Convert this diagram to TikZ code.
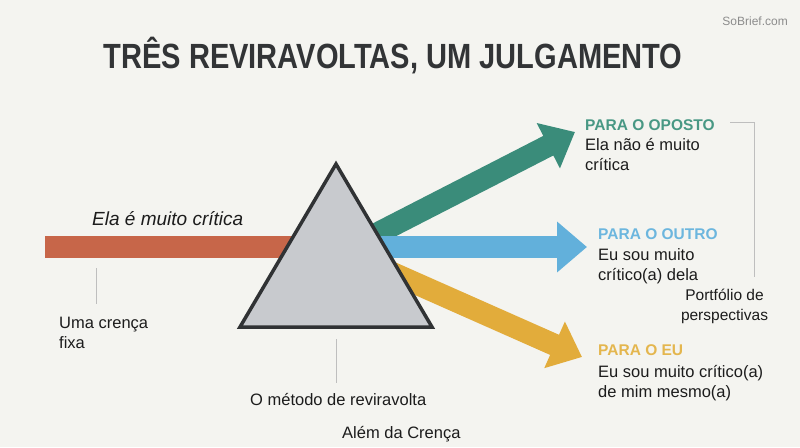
\documentclass[tikz,border=0pt]{standalone}
\usepackage{fontspec}
\setmainfont{Liberation Sans}
\usepackage{graphicx}
\usetikzlibrary{arrows.meta}
\definecolor{bg}{RGB}{244,244,240}
\definecolor{titlec}{RGB}{50,52,54}
\definecolor{txt}{RGB}{28,28,28}
\definecolor{redb}{RGB}{199,102,73}
\definecolor{tealb}{RGB}{58,140,122}
\definecolor{blueb}{RGB}{98,176,219}
\definecolor{yelb}{RGB}{226,172,59}
\definecolor{tealt}{RGB}{72,152,132}
\definecolor{bluet}{RGB}{108,182,222}
\definecolor{yelt}{RGB}{228,182,78}
\definecolor{prismf}{RGB}{200,202,206}
\definecolor{prisml}{RGB}{48,50,52}
\definecolor{guide}{RGB}{190,190,190}
\begin{document}
\begin{tikzpicture}[x=1pt,y=-1pt,
  body/.style={anchor=base west,inner sep=0pt,text=txt,font=\fontsize{16.5}{20}\selectfont},
  head/.style={anchor=base west,inner sep=0pt,font=\bfseries\fontsize{15.5}{20}\selectfont},
  beam/.style={line width=22pt,-{Triangle[length=30pt,width=49pt]}},
  guideline/.style={draw=guide,line width=0.9pt}]
\fill[bg] (0,0) rectangle (800,447);
\useasboundingbox (0,0) rectangle (800,447);

% title and watermark
\node[anchor=base,inner sep=0pt,text=titlec,font=\bfseries\fontsize{35}{35}\selectfont] (title) at (393,68) {\scalebox{0.83}[1]{TRÊS REVIRAVOLTAS, UM JULGAMENTO}};
\node[anchor=base east,inner sep=0pt,text=black!45,font=\fontsize{12}{12}\selectfont] (brand) at (788,25) {SoBrief.com};

% incoming beam
\fill[redb] (45,236) rectangle (305,258);

% outgoing beams
\coordinate (srcT) at (345,250);
\coordinate (srcB) at (345,247);
\coordinate (srcY) at (345,252);
\coordinate (tipT) at (575,132);
\coordinate (tipB) at (587,247);
\coordinate (tipY) at (582,357);
\draw[beam,draw=tealb,fill=tealb] (srcT) -- (tipT);
\draw[beam,draw=blueb,fill=blueb] (srcB) -- (tipB);
\draw[beam,draw=yelb,fill=yelb] (srcY) -- (tipY);

% prism
\coordinate (apex) at (336,164);
\coordinate (bl) at (240,327);
\coordinate (br) at (432,327);
\filldraw[fill=prismf,draw=prisml,line width=3.5pt,line join=miter] (apex) -- (bl) -- (br) -- cycle;

% left labels
\node[body,font=\itshape\fontsize{19}{22}\selectfont] (belief) at (92,225) {Ela é muito crítica};
\coordinate (tickA1) at (96,268);
\coordinate (tickA2) at (96,304);
\draw[guideline] (tickA1) -- (tickA2);
\node[body] (fixed1) at (59,328) {Uma crença};
\node[body] (fixed2) at (59,348) {fixa};

% bottom labels
\coordinate (tickB1) at (336,339);
\coordinate (tickB2) at (336,383);
\draw[guideline] (tickB1) -- (tickB2);
\node[body] (method) at (250,405) {O método de reviravolta};
\node[body] (beyond) at (342,438) {Além da Crença};

% right labels
\node[head,text=tealt] (hOp) at (585,130) {PARA O OPOSTO};
\node[body] (op1) at (585,150) {Ela não é muito};
\node[body] (op2) at (585,170) {crítica};

\node[head,text=bluet] (hOu) at (598,239) {PARA O OUTRO};
\node[body] (ou1) at (598,260) {Eu sou muito};
\node[body] (ou2) at (598,280) {crítico(a) dela};

\node[head,text=yelt] (hEu) at (598,355) {PARA O EU};
\node[body] (eu1) at (598,377) {Eu sou muito crítico(a)};
\node[body] (eu2) at (598,397) {de mim mesmo(a)};

% portfolio bracket
\coordinate (brA) at (730,122);
\coordinate (brB) at (754,122);
\coordinate (brC) at (754,277);
\draw[guideline] (brA) -- (brB) -- (brC);
\node[anchor=base,inner sep=0pt,text=txt,font=\fontsize{15.5}{20}\selectfont] (pf1) at (724.5,300) {Portfólio de};
\node[anchor=base,inner sep=0pt,text=txt,font=\fontsize{15.5}{20}\selectfont] (pf2) at (724.5,320) {perspectivas};
\end{tikzpicture}
\end{document}
